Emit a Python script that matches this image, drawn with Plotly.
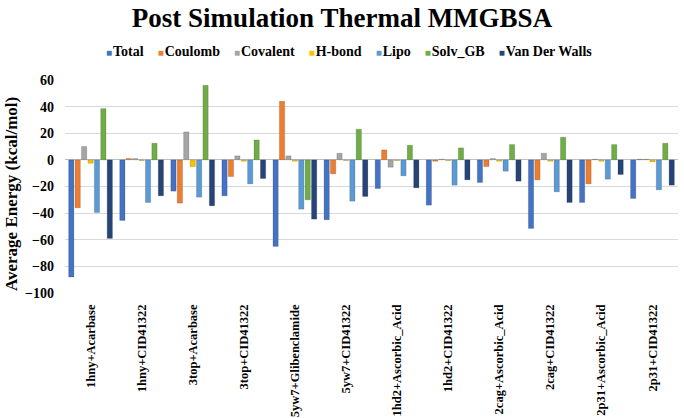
import plotly.graph_objects as go

categories = ["1hny+Acarbase", "1hny+CID41322", "3top+Acarbase", "3top+CID41322",
              "5yw7+Glibenclamide", "5yw7+CID41322", "1hd2+Ascorbic_Acid", "1hd2+CID41322",
              "2cag+Ascorbic_Acid", "2cag+CID41322", "2p31+Ascorbic_Acid", "2p31+CID41322"]

total    = [-88, -45.5, -23.5, -27, -65, -45, -21.5, -34, -17, -51.5, -32, -29]
coulomb  = [-36, 1, -32.5, -12.5, 44, -10.5, 7.5, -1, -5, -15, -18, 0.5]
covalent = [10, 1, 21, 3, 3, 5, -5.5, 0.5, 1, 5, 0.5, 0.5]
hbond    = [-2.5, -0.5, -5, -1, -1, -0.5, -0.5, -0.5, -1, -1, -1, -1.5]
lipo     = [-39.5, -32, -28, -18, -37, -31, -12, -19, -8.5, -24, -14.5, -22.5]
solv_gb  = [38.5, 12.5, 56, 15, -30, 23, 11, 9, 11.5, 17, 11.5, 12.5]
vdw      = [-59, -27, -34.5, -14, -44.5, -27.5, -21, -15, -16, -32, -11, -19]

series = [
    ("Total", total, "#4472C4"),
    ("Coulomb", coulomb, "#ED7D31"),
    ("Covalent", covalent, "#A5A5A5"),
    ("H-bond", hbond, "#FFC000"),
    ("Lipo", lipo, "#5B9BD5"),
    ("Solv_GB", solv_gb, "#70AD47"),
    ("Van Der Walls", vdw, "#264478"),
]

serif = "Liberation Serif, Times New Roman, serif"

fig = go.Figure()
for name, vals, color in series:
    fig.add_trace(go.Bar(
        name=name, x=categories, y=vals, showlegend=False,
        marker=dict(color=color, line=dict(color="rgba(0,0,0,0.25)", width=0.6)),
    ))

# legend drawn as one text line with coloured square glyphs
legend_parts = []
for name, _, color in series:
    legend_parts.append(f"<span style='color:{color};font-size:10px'>■</span>"
                        f"<span style='font-size:4px'>&nbsp;</span>{name}")
legend_text = "<b>" + "&nbsp;&nbsp;&nbsp;&nbsp;".join(legend_parts) + "</b>"

fig.update_layout(
    width=684, height=418,
    margin=dict(l=65, r=6, t=80, b=125),
    paper_bgcolor="white", plot_bgcolor="white",
    barmode="group", bargap=0.12, bargroupgap=0.18,
    title=dict(text="<b>Post Simulation Thermal MMGBSA</b>",
               font=dict(family=serif, size=27, color="black"),
               x=0.5, xanchor="center", y=0.958, yanchor="middle"),
    showlegend=False,
    font=dict(family=serif, color="black"),
    annotations=[
        dict(text=legend_text, xref="paper", yref="paper", x=(349 - 65) / 613, y=(293 - 51) / 213,
             xanchor="center", yanchor="middle", showarrow=False,
             font=dict(family=serif, size=14, color="black")),
        dict(text="<b>Average Energy (kcal/mol)</b>", xref="paper", yref="paper",
             x=(11 - 65) / 613, y=(293 - 194) / 213, xanchor="center", yanchor="middle",
             textangle=-90, showarrow=False,
             font=dict(family=serif, size=17, color="black")),
    ],
)
fig.update_yaxes(
    range=[-100, 60], dtick=20, showgrid=True, gridcolor="#D9D9D9", gridwidth=1,
    zeroline=True, zerolinecolor="#BFBFBF", zerolinewidth=1,
    tickfont=dict(family=serif, size=14, color="black", weight="bold"),
    ticklabelstandoff=10, automargin=False,
    showline=False, ticks="",
)
fig.update_xaxes(
    tickangle=-90, tickfont=dict(family=serif, size=12.5, color="black", weight="bold"),
    showline=False, ticks="", ticklabelstandoff=8, automargin=False,
)

fig.write_html("out.html")
